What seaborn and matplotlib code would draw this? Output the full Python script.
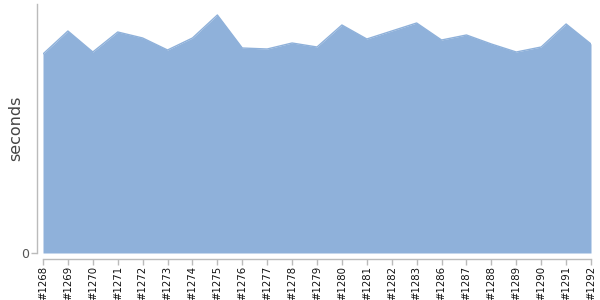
import matplotlib
matplotlib.use("Agg")
import matplotlib.pyplot as plt
import seaborn as sns
import pandas as pd

builds = ["#1268", "#1269", "#1270", "#1271", "#1272", "#1273", "#1274", "#1275",
          "#1276", "#1277", "#1278", "#1279", "#1280", "#1281", "#1282", "#1283",
          "#1286", "#1287", "#1288", "#1289", "#1290", "#1291", "#1292"]
seconds = [199, 222, 201, 221, 215, 203, 215, 238, 205, 204, 210, 206, 228, 214,
           222, 230, 213, 218, 209, 201, 206, 229, 209]

df = pd.DataFrame({"build": builds, "seconds": seconds})
df["pos"] = range(len(df))

sns.set_style("white")
plt.rcParams["font.family"] = ["DejaVu Sans"]
fig = plt.figure(figsize=(6, 3), dpi=100)
ax = fig.add_axes([43/600, 47/300, 548/600, 249/300])

color = "#8fb1da"
ax.fill_between(df["pos"], 0, df["seconds"], color=color, linewidth=0)
sns.lineplot(data=df, x="pos", y="seconds", ax=ax, color=color, linewidth=1)

ax.set_xlim(0, len(df) - 1)
ax.set_ylim(0, 249)
ax.set_xticks(df["pos"])
ax.set_xticklabels(df["build"])
ax.set_yticks([0])
ax.set_yticklabels(["0"])
ax.set_xlabel("")
ax.set_ylabel("seconds", fontsize=11.5, color="#444444")

for s in ["top", "right"]:
    ax.spines[s].set_visible(False)
for s in ["left", "bottom"]:
    ax.spines[s].set_position(("outward", 4))
    ax.spines[s].set_color("#bbbbbb")
    ax.spines[s].set_linewidth(1)
ax.tick_params(axis="both", which="both", length=4, width=1, color="#bbbbbb",
               direction="out", bottom=True, left=True)
ax.tick_params(axis="x", labelrotation=90, labelsize=7.3, labelcolor="#111111", pad=1.5)
ax.tick_params(axis="y", labelsize=9, labelcolor="#555555", pad=2)
ax.yaxis.set_label_coords(-0.036, 0.5)

fig.savefig("out.png", dpi=100)
